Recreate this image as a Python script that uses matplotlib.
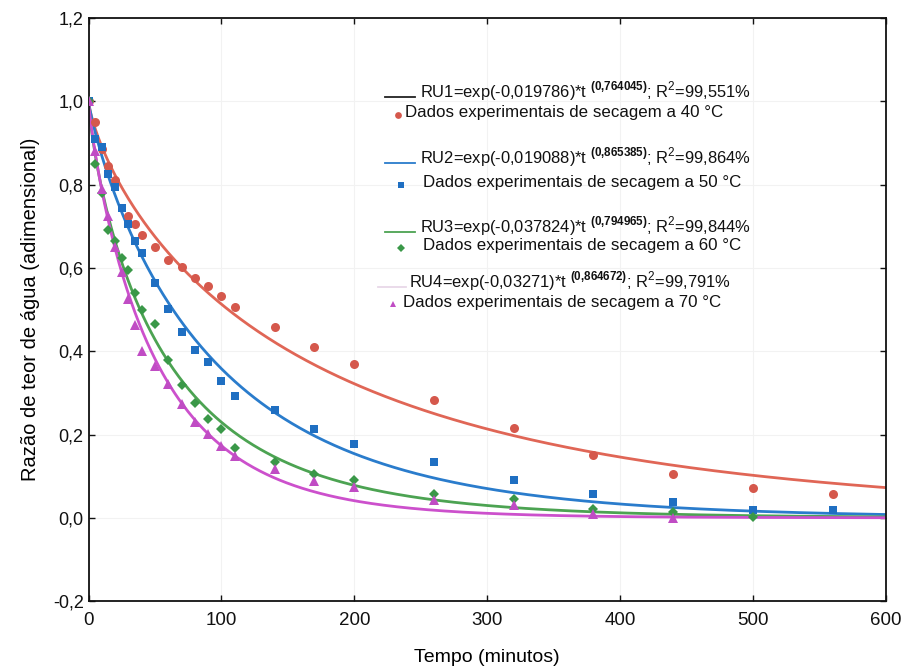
import numpy as np
import matplotlib
matplotlib.use("Agg")
import matplotlib.pyplot as plt
from matplotlib.lines import Line2D
from matplotlib.ticker import FuncFormatter

plt.rcParams['font.family'] = ['Liberation Sans', 'DejaVu Sans']
plt.rcParams['mathtext.fontset'] = 'custom'
plt.rcParams['mathtext.rm'] = 'Liberation Sans'
plt.rcParams['mathtext.bf'] = 'Liberation Sans:bold'

# Experimental drying data (moisture ratio vs time in minutes)
t_40 = [0, 5, 10, 15, 20, 30, 35, 40, 50, 60, 70, 80, 90, 100, 110, 140, 170, 200, 260, 320, 380, 440, 500, 560]
ru_40 = [1.00, 0.95, 0.885, 0.845, 0.81, 0.725, 0.705, 0.68, 0.65, 0.62, 0.603, 0.575, 0.557, 0.533, 0.505,
         0.457, 0.41, 0.37, 0.283, 0.215, 0.152, 0.105, 0.072, 0.057]

t_50 = [0, 5, 10, 15, 20, 25, 30, 35, 40, 50, 60, 70, 80, 90, 100, 110, 140, 170, 200, 260, 320, 380, 440, 500, 560]
ru_50 = [1.00, 0.91, 0.89, 0.825, 0.795, 0.745, 0.705, 0.665, 0.636, 0.565, 0.502, 0.446, 0.404, 0.374, 0.329,
         0.293, 0.259, 0.214, 0.178, 0.133, 0.090, 0.058, 0.037, 0.018, 0.018]

t_60 = [0, 5, 10, 15, 20, 25, 30, 35, 40, 50, 60, 70, 80, 90, 100, 110, 140, 170, 200, 260, 320, 380, 440, 500]
ru_60 = [1.00, 0.85, 0.78, 0.69, 0.665, 0.625, 0.595, 0.54, 0.50, 0.465, 0.378, 0.32, 0.276, 0.238, 0.213,
         0.167, 0.134, 0.106, 0.090, 0.057, 0.045, 0.022, 0.015, 0.002]

t_70 = [0, 5, 10, 15, 20, 25, 30, 35, 40, 50, 60, 70, 80, 90, 100, 110, 140, 170, 200, 260, 320, 380, 440]
ru_70 = [1.00, 0.88, 0.79, 0.725, 0.65, 0.59, 0.525, 0.463, 0.401, 0.365, 0.322, 0.273, 0.229, 0.201, 0.173,
         0.149, 0.117, 0.089, 0.073, 0.042, 0.031, 0.010, 0.0]

# Page model RU = exp(-k * t^n) fitted parameters
k_vals = [0.019786, 0.019088, 0.037824, 0.03271]
n_vals = [0.764045, 0.865385, 0.794965, 0.864672]
r2_vals = ["99,551", "99,864", "99,844", "99,791"]
k_txt = ["0,019786", "0,019088", "0,037824", "0,03271"]
n_txt = ["0,764045", "0,865385", "0,794965", "0,864672"]
temps = [40, 50, 60, 70]

pt_colors = ["#d5584c", "#1f6fc2", "#3a9848", "#c04cc4"]
line_colors = ["#e06656", "#2a7ccc", "#4ca352", "#cc50cc"]
legend_line_colors = ["#222222", "#2a7ccc", "#4ca352", "#e8d8e8"]
markers = ["o", "s", "D", "^"]
msizes = [6.5, 6.0, 5.0, 6.5]

fig = plt.figure(figsize=(9.05, 6.69), dpi=100)
ax = fig.add_axes([0.0978, 0.1015, 0.881, 0.8715])

t_fit = np.linspace(0, 600, 601)
data = [(t_40, ru_40), (t_50, ru_50), (t_60, ru_60), (t_70, ru_70)]
for i, (tt, rr) in enumerate(data):
    ax.plot(t_fit, np.exp(-k_vals[i] * t_fit ** n_vals[i]), color=line_colors[i], lw=2.0, zorder=2)
for i, (tt, rr) in enumerate(data):
    ax.plot(tt, rr, linestyle="none", marker=markers[i], ms=msizes[i],
            color=pt_colors[i], markeredgewidth=0, zorder=3)

ax.set_xlim(0, 600)
ax.set_ylim(-0.2, 1.2)
ax.set_xticks(np.arange(0, 601, 100))
ax.set_yticks(np.arange(-0.2, 1.21, 0.2))
ax.yaxis.set_major_formatter(FuncFormatter(lambda v, p: f"{v:.1f}".replace(".", ",").replace("-0,0", "0,0")))
ax.tick_params(direction="in", top=True, right=True, length=4, width=1, labelsize=13, colors="#111111")
ax.tick_params(axis="x", pad=8)
for lbl in ax.get_xticklabels():
    lbl.set_fontsize(13.5)
ax.grid(True, color="#f2f2f2", lw=0.8, zorder=0)
for s in ax.spines.values():
    s.set_linewidth(1.3)
    s.set_color("#111111")

ax.set_xlabel("Tempo (minutos)", fontsize=14, labelpad=14)
ax.set_ylabel("Razão de teor de água (adimensional)", fontsize=14.5, labelpad=9)

# Legend block drawn in figure pixel positions
W, H = 905.0, 669.0


def fx(x):
    return x / W


def fy(y):
    return 1 - y / H


rows_eq = [91, 157, 226, 281]
rows_pt = [113, 183, 246, 302]
eq_x = [420, 420, 420, 409]
line_x = [(385, 415), (385, 415), (385, 415), (378, 406)]
pt_mx = [398, 401, 401, 393]
pt_tx = [405, 423, 423, 403]
for i in range(4):
    y = rows_eq[i]
    x0, x1 = line_x[i]
    fig.add_artist(Line2D([fx(x0), fx(x1)], [fy(y + 6), fy(y + 6)], color=legend_line_colors[i], lw=1.3,
                          transform=fig.transFigure))
    txt = (f"RU{i+1}=exp(-{k_txt[i]})*t $^{{\\mathbf{{({n_txt[i].replace(',', '{,}')})}}}}$; "
           f"R$^2$={r2_vals[i]}%")
    fig.text(fx(eq_x[i]), fy(y), txt, fontsize=11.9, va="center", ha="left", color="#111111")
    yp = rows_pt[i]
    fig.add_artist(Line2D([fx(pt_mx[i])], [fy(yp + 2)], marker=markers[i], ms=msizes[i] * 0.75,
                          color=pt_colors[i], markeredgewidth=0, linestyle="none",
                          transform=fig.transFigure))
    fig.text(fx(pt_tx[i]), fy(yp), f"Dados experimentais de secagem a {temps[i]} °C", fontsize=12.2,
             va="center", ha="left", color="#111111")

fig.savefig("out.png", dpi=100)
